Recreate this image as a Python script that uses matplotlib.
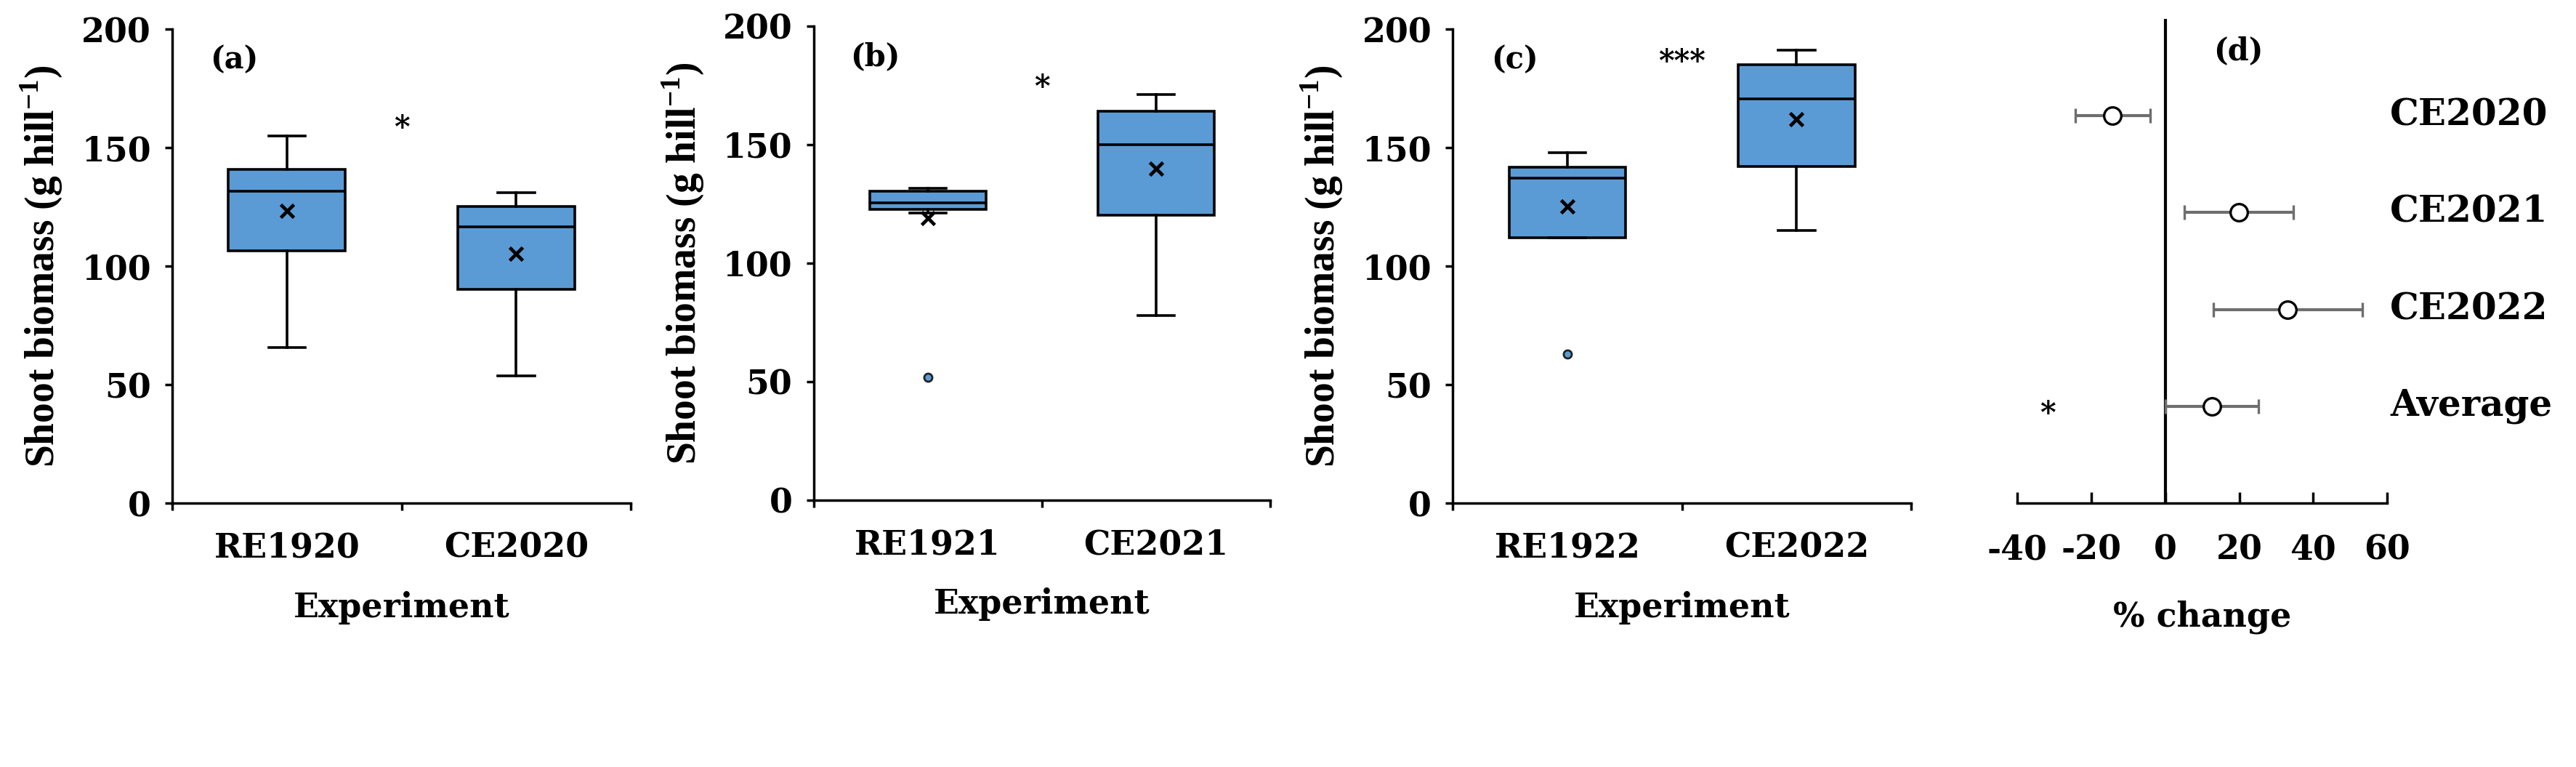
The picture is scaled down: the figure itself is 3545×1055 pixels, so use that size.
import matplotlib
matplotlib.use('Agg')
import matplotlib.pyplot as plt
from matplotlib.transforms import blended_transform_factory

plt.rcParams['font.family'] = ['DejaVu Serif']
plt.rcParams['font.weight'] = 'bold'
plt.rcParams['axes.labelweight'] = 'bold'
plt.rcParams['mathtext.fontset'] = 'custom'
plt.rcParams['mathtext.rm'] = 'Liberation Serif:bold'
plt.rcParams['mathtext.bf'] = 'Liberation Serif:bold'

# ---------------- data ----------------
panel_labels = ['(a)', '(b)', '(c)']
groups = [['RE1920', 'CE2020'], ['RE1921', 'CE2021'], ['RE1922', 'CE2022']]
whislo = [[65.8, 53.6], [121.1, 77.9], [112.0, 115.2]]
q1 = [[106.5, 90.3], [122.8, 120.2], [112.0, 141.9]]
med = [[131.7, 116.6], [125.5, 150.0], [137.2, 170.6]]
q3 = [[140.7, 125.1], [130.4, 164.1], [141.6, 185.0]]
whishi = [[154.9, 131.0], [131.5, 171.0], [148.0, 191.2]]
means = [[123.4, 105.3], [118.9, 139.8], [125.3, 161.9]]
fliers = [[[], []], [[51.7], []], [[62.8], []]]
sig_marks = ['*', '*', '***']
sig_y = [158, 174, 186]
yticks = [0, 50, 100, 150, 200]

change_labels = ['CE2020', 'CE2021', 'CE2022', 'Average']
change_mean = [-14.2, 19.8, 33.1, 12.7]
change_low = [-24.4, 5.1, 13.0, 0.0]
change_high = [-4.0, 34.7, 53.3, 25.2]
change_rows = [4, 3, 2, 1]
xticks_d = [-40, -20, 0, 20, 40, 60]

# ---------------- figure ----------------
fig = plt.figure(figsize=(35.45, 10.55), dpi=100)
positions_box = [
    [0.0669, 0.344, 0.178, 0.618],
    [0.3158, 0.348, 0.1773, 0.618],
    [0.5640, 0.344, 0.1779, 0.618],
]
box_color = '#5B9BD5'
FS = 33

for i, pos in enumerate(positions_box):
    ax = fig.add_axes(pos)
    stats = []
    for j in range(2):
        stats.append(dict(label=groups[i][j], whislo=whislo[i][j], q1=q1[i][j],
                          med=med[i][j], q3=q3[i][j], whishi=whishi[i][j],
                          mean=means[i][j], fliers=fliers[i][j]))
    ax.bxp(stats, positions=[0.5, 1.5], widths=0.51, patch_artist=True,
           showmeans=True, capwidths=0.16,
           boxprops=dict(facecolor=box_color, edgecolor='black', linewidth=2.6),
           medianprops=dict(color='black', linewidth=2.6),
           whiskerprops=dict(color='black', linewidth=2.6),
           capprops=dict(color='black', linewidth=2.6),
           meanprops=dict(marker='x', markeredgecolor='black', markersize=13,
                          markeredgewidth=3.4),
           flierprops=dict(marker='o', markerfacecolor=box_color,
                           markeredgecolor='#222222', markersize=8,
                           markeredgewidth=2))
    ax.set_xlim(0, 2)
    ax.set_ylim(0, 200)
    ax.set_yticks(yticks)
    ax.set_yticklabels([str(v) for v in yticks])
    ax.set_xticks([0, 1, 2])
    ax.set_xticklabels(['', '', ''])
    ax.set_xticks([0.5, 1.5], minor=True)
    ax.set_xticklabels(groups[i], minor=True)
    ax.tick_params(axis='x', which='minor', length=0, pad=28, labelsize=FS)
    ax.tick_params(axis='x', which='major', direction='out', length=7, width=2.5)
    ax.tick_params(axis='y', direction='out', length=7, width=2.5, pad=14,
                   labelsize=FS)
    for s in ['top', 'right']:
        ax.spines[s].set_visible(False)
    for s in ['left', 'bottom']:
        ax.spines[s].set_linewidth(2.5)
    ax.set_xlabel('Experiment', fontsize=FS, fontweight='bold')
    ax.xaxis.set_label_coords(0.5, -0.185)
    ax.set_ylabel('Shoot biomass (g hill$^{\\mathbf{-1}}$)', fontsize=40,
                  family='Liberation Serif', weight='bold')
    ax.yaxis.set_label_coords(-0.235, 0.5)
    ax.text(0.27, 187, panel_labels[i], fontsize=30, ha='center', va='center')
    ax.text(1.0, sig_y[i], sig_marks[i], fontsize=30, ha='center', va='center')

# ---------------- panel (d) ----------------
axd = fig.add_axes([0.7831, 0.344, 0.1436, 0.6314])
xerr = [[m - lo for m, lo in zip(change_mean, change_low)],
        [hi - m for m, hi in zip(change_mean, change_high)]]
axd.axvline(0, color='black', linewidth=3)
axd.errorbar(change_mean, change_rows, xerr=xerr, fmt='o', color='#6e6e6e',
             ecolor='#6e6e6e', elinewidth=3, capsize=7, capthick=3,
             markerfacecolor='white', markeredgecolor='black', markersize=17,
             markeredgewidth=2.4, zorder=3)
axd.set_xlim(-40, 60)
axd.set_ylim(0, 5)
axd.set_xticks(xticks_d)
axd.set_xticklabels([str(v) for v in xticks_d])
axd.set_yticks([])
axd.tick_params(axis='x', direction='in', length=11, width=2.5, pad=30,
                labelsize=FS)
for s in ['top', 'right', 'left']:
    axd.spines[s].set_visible(False)
axd.spines['bottom'].set_linewidth(2.5)
axd.set_xlabel('% change', fontsize=FS, fontweight='bold')
axd.xaxis.set_label_coords(0.5, -0.2)
trans = blended_transform_factory(axd.transAxes, axd.transData)
for lab, row in zip(change_labels, change_rows):
    axd.text(1.008, row, lab, transform=trans, fontsize=36, ha='left',
             va='center', clip_on=False)
axd.text(19.8, 4.67, '(d)', fontsize=30, ha='center', va='center')
axd.text(-31.7, 0.92, '*', fontsize=30, ha='center', va='center')

fig.savefig('out.png', dpi=100)
